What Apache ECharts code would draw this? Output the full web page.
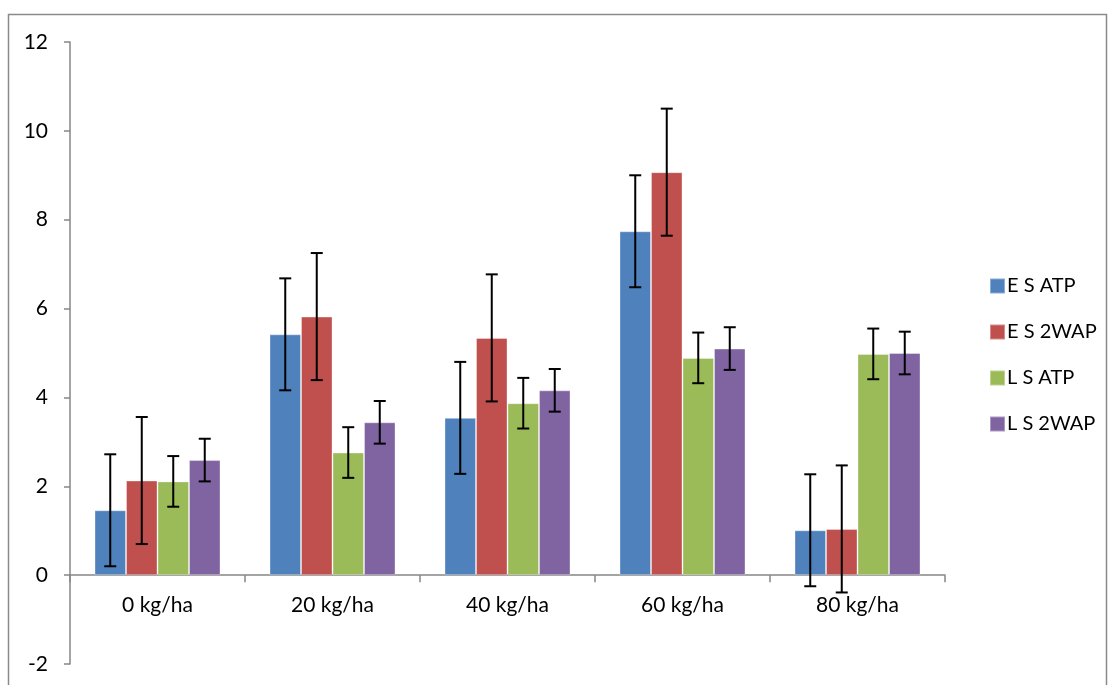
<!DOCTYPE html>
<html>
<head>
<meta charset="utf-8">
<script src="https://cdn.jsdelivr.net/npm/echarts@6/dist/echarts.min.js"></script>
<style>
html,body{margin:0;padding:0;background:#fff;}
#c{width:1115px;height:685px;}
</style>
</head>
<body>
<div id="c"></div>
<script>
const categories = ['0 kg/ha', '20 kg/ha', '40 kg/ha', '60 kg/ha', '80 kg/ha'];
const seriesNames = ['E S ATP', 'E S 2WAP', 'L S ATP', 'L S 2WAP'];
const esATP  = [1.46, 5.42, 3.54, 7.74, 1.01];
const es2WAP = [2.13, 5.82, 5.34, 9.07, 1.04];
const lsATP  = [2.11, 2.76, 3.87, 4.89, 4.98];
const ls2WAP = [2.59, 3.44, 4.16, 5.10, 5.00];
const errESATP  = [1.26, 1.26, 1.26, 1.26, 1.26];
const errES2WAP = [1.43, 1.43, 1.43, 1.43, 1.43];
const errLSATP  = [0.57, 0.57, 0.57, 0.57, 0.57];
const errLS2WAP = [0.48, 0.48, 0.48, 0.48, 0.48];
const yTicks = { min: -2, max: 12, interval: 2 };

const values = [esATP, es2WAP, lsATP, ls2WAP];
const errors = [errESATP, errES2WAP, errLSATP, errLS2WAP];
const colors = ['#4F81BD', '#C0504D', '#9BBB59', '#8064A2'];
const gapRatio = 0.28;
const font = 'Lato, "Liberation Sans", sans-serif';

const W = 1115, H = 685;
const gridTop = 42, gridBottom = 21, gridLeft = 70, gridRight = 170;
const gridH = H - gridTop - gridBottom;
// place the category axis at y = 0
const zeroOffset = -(0 - yTicks.min) / (yTicks.max - yTicks.min) * gridH;

const chart = echarts.init(document.getElementById('c'), null, { renderer: 'canvas' });

const series = [];
values.forEach((vals, i) => {
  series.push({
    name: seriesNames[i],
    type: 'bar',
    data: vals,
    barGap: '0%',
    barCategoryGap: (gapRatio * 100) + '%',
    itemStyle: { color: colors[i], borderColor: 'rgba(255,255,255,0.35)', borderWidth: 1 },
    emphasis: { disabled: true }
  });
});
values.forEach((vals, i) => {
  series.push({
    name: seriesNames[i] + ' err',
    type: 'custom',
    data: vals.map((v, k) => [k, v - errors[i][k], v + errors[i][k]]),
    encode: { x: 0, y: [1, 2] },
    z: 10,
    silent: true,
    renderItem: function (params, api) {
      const k = api.value(0);
      const lo = api.coord([k, api.value(1)]);
      const hi = api.coord([k, api.value(2)]);
      const band = api.size([1, 0])[0];
      const bw = band * (1 - gapRatio) / 4;
      const x = lo[0] + (i - 1.5) * bw;
      const cap = 6;
      const st = { stroke: '#000', lineWidth: 2 };
      return {
        type: 'group',
        children: [
          { type: 'line', shape: { x1: x, y1: lo[1], x2: x, y2: hi[1] }, style: st },
          { type: 'line', shape: { x1: x - cap, y1: lo[1], x2: x + cap, y2: lo[1] }, style: st },
          { type: 'line', shape: { x1: x - cap, y1: hi[1], x2: x + cap, y2: hi[1] }, style: st }
        ]
      };
    }
  });
});

chart.setOption({
  animation: false,
  backgroundColor: '#fff',
  graphic: [{
    type: 'rect',
    shape: { x: 8.5, y: 14.5, width: 1098, height: 700 },
    style: { fill: 'none', stroke: '#8a8a8a', lineWidth: 1.5 },
    z: -1
  }],
  grid: { left: gridLeft, right: gridRight, top: gridTop, bottom: gridBottom, containLabel: false, outerBoundsMode: 'none' },
  legend: {
    data: seriesNames,
    orient: 'vertical',
    left: 984,
    top: 271,
    itemWidth: 15,
    itemHeight: 15,
    itemGap: 26,
    icon: 'rect',
    textStyle: { fontFamily: font, fontSize: 20, color: '#000', padding: [0, 0, 0, -3] }
  },
  xAxis: {
    type: 'category',
    data: categories,
    position: 'bottom',
    offset: zeroOffset,
    axisLine: { onZero: false, lineStyle: { color: '#868686', width: 1.5 } },
    axisTick: { show: true, alignWithLabel: false, length: 7, lineStyle: { color: '#868686', width: 1.5 } },
    axisLabel: { fontFamily: font, fontSize: 21, color: '#000', margin: 20 },
    splitLine: { show: false }
  },
  yAxis: {
    type: 'value',
    min: yTicks.min,
    max: yTicks.max,
    interval: yTicks.interval,
    axisLine: { show: true, lineStyle: { color: '#868686', width: 1.5 } },
    axisTick: { show: true, length: 6, lineStyle: { color: '#868686', width: 1.5 } },
    axisLabel: { fontFamily: font, fontSize: 21, color: '#000', margin: 22 },
    splitLine: { show: false }
  },
  series: series
});
</script>
</body>
</html>
